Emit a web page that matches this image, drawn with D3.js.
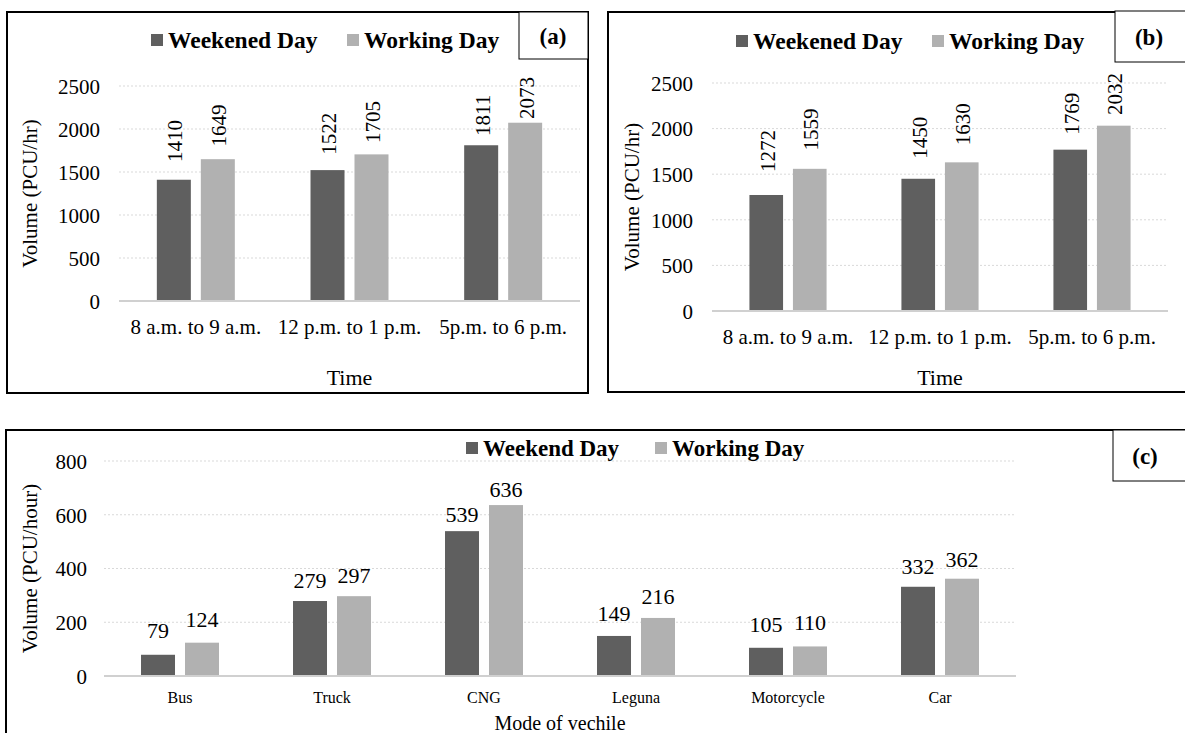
<!DOCTYPE html>
<html>
<head>
<meta charset="utf-8">
<script src="https://cdnjs.cloudflare.com/ajax/libs/d3/7.8.5/d3.min.js"></script>
<style>
  html, body { margin: 0; padding: 0; background: #ffffff; }
  svg { display: block; font-family: "Liberation Serif", "Times New Roman", serif; }
  svg text { font-family: "Liberation Serif", "Times New Roman", serif; }
</style>
</head>
<body>
<svg id="chart" width="1185" height="733"></svg>
<script>
// ---------- data ----------
const timeCategories = ["8 a.m. to 9 a.m.", "12 p.m. to 1 p.m.", "5p.m. to 6 p.m."];
const seriesAB = ["Weekened Day", "Working Day"];
const aWeekend = [1410, 1522, 1811];
const aWorking = [1649, 1705, 2073];
const bWeekend = [1272, 1450, 1769];
const bWorking = [1559, 1630, 2032];
const abTicks = [0, 500, 1000, 1500, 2000, 2500];

const modeCategories = ["Bus", "Truck", "CNG", "Leguna", "Motorcycle", "Car"];
const seriesC = ["Weekend Day", "Working Day"];
const cWeekend = [79, 279, 539, 149, 105, 332];
const cWorking = [124, 297, 636, 216, 110, 362];
const cTicks = [0, 200, 400, 600, 800];

const colors = ["#5f5f5f", "#b1b1b1"];
const FONT = "Liberation Serif";
const svg = d3.select("#chart");

function panel(cfg) {
  const g = svg.append("g");
  g.append("rect").attr("x", cfg.frame[0]).attr("y", cfg.frame[1])
    .attr("width", cfg.frame[2] - cfg.frame[0]).attr("height", cfg.frame[3] - cfg.frame[1])
    .attr("fill", "#fff").attr("stroke", "#000").attr("stroke-width", 2);

  const maxV = d3.max(cfg.ticks);
  const y = d3.scaleLinear().domain([0, maxV]).range([cfg.plot[3], cfg.plot[1]]);
  // label anchor scale (labels sit on a slightly compressed scale, as in the original)
  const yLab = d3.scaleLinear().domain([0, maxV]).range(cfg.labelRange);
  const p = cfg.groupFrac;
  const x0 = d3.scaleBand().domain(cfg.categories).range([cfg.plot[0], cfg.plot[2]])
    .paddingInner(p).paddingOuter(p / 2);
  const x1 = d3.scaleBand().domain(cfg.series).range([0, x0.bandwidth()]).paddingInner(cfg.innerPad);

  g.append("g").selectAll("line").data(cfg.ticks.filter(t => t > 0)).join("line")
    .attr("x1", cfg.plot[0]).attr("x2", cfg.plot[2])
    .attr("y1", d => y(d)).attr("y2", d => y(d))
    .attr("stroke", "#d9d9d9").attr("stroke-width", 1).attr("stroke-dasharray", "2,2");

  const ya = g.append("g").attr("transform", `translate(${cfg.plot[0]},0)`)
    .call(d3.axisLeft(y).tickValues(cfg.ticks).tickSize(0).tickPadding(cfg.yPad).tickFormat(d3.format("d")));
  ya.attr("font-family", FONT);
  ya.select(".domain").remove();
  ya.selectAll("text").attr("font-size", cfg.tickFont).attr("fill", "#000")
    .attr("font-family", FONT).attr("dy", "0.35em");

  const rows = cfg.categories.map((c, i) => ({ c, vals: cfg.values.map(v => v[i]) }));
  const grp = g.append("g").selectAll("g").data(rows).join("g")
    .attr("transform", d => `translate(${x0(d.c)},0)`);
  grp.selectAll("rect").data(d => d.vals.map((v, k) => ({ v, k }))).join("rect")
    .attr("x", d => x1(cfg.series[d.k])).attr("y", d => y(d.v))
    .attr("width", x1.bandwidth()).attr("height", d => y(0) - y(d.v))
    .attr("fill", d => colors[d.k]);

  if (cfg.rotateLabels) {
    grp.selectAll("text.lbl").data(d => d.vals.map((v, k) => ({ v, k }))).join("text")
      .attr("class", "lbl")
      .attr("transform", d => `translate(${x1(cfg.series[d.k]) + x1.bandwidth() / 2 + 1},${yLab(d.v)}) rotate(-90)`)
      .attr("text-anchor", "start").attr("dy", "0.35em").attr("font-family", FONT)
      .attr("font-size", cfg.labelFont).attr("fill", "#000").text(d => d.v);
  } else {
    grp.selectAll("text.lbl").data(d => d.vals.map((v, k) => ({ v, k }))).join("text")
      .attr("class", "lbl")
      .attr("x", d => x1(cfg.series[d.k]) + x1.bandwidth() / 2)
      .attr("y", d => yLab(d.v))
      .attr("text-anchor", "middle").attr("font-family", FONT)
      .attr("font-size", cfg.labelFont).attr("fill", "#000").text(d => d.v);
  }

  g.append("line").attr("x1", cfg.plot[0]).attr("x2", cfg.plot[2])
    .attr("y1", y(0)).attr("y2", y(0)).attr("stroke", "#d0d0d0").attr("stroke-width", 2);
  const xa = g.append("g").attr("transform", `translate(0,${y(0)})`)
    .call(d3.axisBottom(x0).tickSize(0).tickPadding(0));
  xa.attr("font-family", FONT);
  xa.select(".domain").remove();
  xa.selectAll("text").attr("font-size", cfg.catFont).attr("fill", "#000")
    .attr("font-family", FONT).attr("dy", 0).attr("y", cfg.catY);

  g.append("text").attr("x", (cfg.plot[0] + cfg.plot[2]) / 2).attr("y", cfg.xTitleY)
    .attr("text-anchor", "middle").attr("font-family", FONT).attr("font-size", cfg.xTitleFont).text(cfg.xTitle);
  g.append("text")
    .attr("transform", `translate(${cfg.yTitleX},${(cfg.plot[1] + cfg.plot[3]) / 2}) rotate(-90)`)
    .attr("text-anchor", "middle").attr("dy", "0.35em").attr("font-family", FONT)
    .attr("font-size", cfg.yTitleFont).text(cfg.yTitle);

  cfg.series.forEach((s, k) => {
    const lx = cfg.legendX[k];
    g.append("rect").attr("x", lx).attr("y", cfg.legendY - 6).attr("width", 12).attr("height", 12)
      .attr("fill", colors[k]);
    g.append("text").attr("x", lx + 17).attr("y", cfg.legendY).attr("dy", "0.35em")
      .attr("font-family", FONT).attr("font-size", cfg.legendFont).attr("font-weight", "bold").text(s);
  });

  g.append("rect").attr("x", cfg.tag[0]).attr("y", cfg.tag[1])
    .attr("width", cfg.tag[2] - cfg.tag[0]).attr("height", cfg.tag[3] - cfg.tag[1])
    .attr("fill", "#fff").attr("stroke", "#000").attr("stroke-width", 1);
  g.append("text").attr("x", cfg.tag[4]).attr("y", (cfg.tag[1] + cfg.tag[3]) / 2).attr("dy", "0.35em")
    .attr("text-anchor", "middle").attr("font-family", FONT).attr("font-size", 23)
    .attr("font-weight", "bold").text(cfg.tagText);
}

panel({
  frame: [7, 12, 588, 393], plot: [119, 86, 580, 301], labelRange: [253.5, 91.3],
  categories: timeCategories, series: seriesAB, values: [aWeekend, aWorking], ticks: abTicks,
  groupFrac: 0.4925, innerPad: 0.227, yPad: 19, tickFont: 21, labelFont: 21, rotateLabels: true,
  catFont: 21, catY: 33, xTitle: "Time", xTitleY: 385, xTitleFont: 22,
  yTitle: "Volume (PCU/hr)", yTitleX: 30, yTitleFont: 21,
  legendX: [151, 347], legendY: 40, legendFont: 23.5,
  tag: [519, 12, 588, 59, 553], tagText: "(a)"
});

panel({
  frame: [608, 12, 1195, 392], plot: [712, 83, 1168, 311], labelRange: [267.4, 80],
  categories: timeCategories, series: seriesAB, values: [bWeekend, bWorking], ticks: abTicks,
  groupFrac: 0.4925, innerPad: 0.227, yPad: 19, tickFont: 21, labelFont: 21, rotateLabels: true,
  catFont: 21, catY: 33, xTitle: "Time", xTitleY: 385, xTitleFont: 22,
  yTitle: "Volume (PCU/hr)", yTitleX: 632, yTitleFont: 21,
  legendX: [736, 932], legendY: 41, legendFont: 23.5,
  tag: [1115, 11, 1195, 62, 1149], tagText: "(b)"
});

panel({
  frame: [6, 430, 1195, 740], plot: [104, 461, 1016, 676], labelRange: [658.2, 456],
  categories: modeCategories, series: seriesC, values: [cWeekend, cWorking], ticks: cTicks,
  groupFrac: 0.487, innerPad: 0.227, yPad: 17, tickFont: 21, labelFont: 22, rotateLabels: false,
  catFont: 16, catY: 27, xTitle: "Mode of vechile", xTitleY: 730, xTitleFont: 20,
  yTitle: "Volume (PCU/hour)", yTitleX: 30, yTitleFont: 21,
  legendX: [466, 655], legendY: 448, legendFont: 23,
  tag: [1113, 430, 1195, 481, 1145], tagText: "(c)"
});
</script>
</body>
</html>
